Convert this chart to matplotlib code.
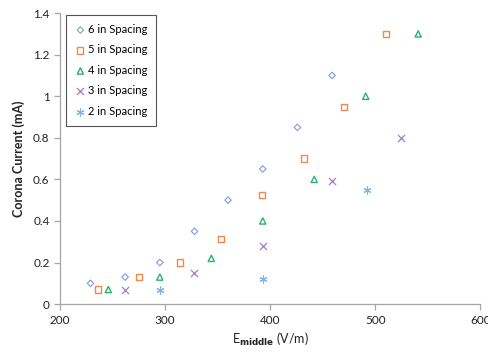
import matplotlib
matplotlib.use("Agg")
import matplotlib.pyplot as plt

plt.rcParams['font.family'] = ['Lato', 'DejaVu Sans']

# Data
x6 = [229, 262, 295, 328, 360, 393, 426, 459]
y6 = [0.10, 0.13, 0.20, 0.35, 0.50, 0.65, 0.85, 1.10]
x5 = [236, 275, 314, 353, 392, 432, 470, 510]
y5 = [0.07, 0.13, 0.20, 0.315, 0.525, 0.70, 0.95, 1.30]
x4 = [246, 295, 344, 393, 442, 491, 541]
y4 = [0.07, 0.13, 0.22, 0.40, 0.60, 1.00, 1.30]
x3 = [262, 328, 393, 459, 525]
y3 = [0.07, 0.15, 0.28, 0.59, 0.80]
x2 = [295, 393, 492]
y2 = [0.07, 0.12, 0.55]

labels = ['6 in Spacing', '5 in Spacing', '4 in Spacing', '3 in Spacing', '2 in Spacing']
xticks = [200, 300, 400, 500, 600]
yticks = [0, 0.2, 0.4, 0.6, 0.8, 1, 1.2, 1.4]
ytick_labels = ['0', '0.2', '0.4', '0.6', '0.8', '1', '1.2', '1.4']

fig = plt.figure(figsize=(4.88, 3.54), dpi=100)
ax = fig.add_axes([0.123, 0.141, 0.861, 0.822])

ax.scatter(x6, y6, marker='D', s=11, facecolors='none', edgecolors='#7f9bdc', linewidths=0.8, label=labels[0])
ax.scatter(x5, y5, marker='s', s=20, facecolors='none', edgecolors='#f2894a', linewidths=1.0, label=labels[1])
ax.scatter(x4, y4, marker='^', s=20, facecolors='none', edgecolors='#2bb46a', linewidths=1.0, label=labels[2])
ax.scatter(x3, y3, marker='x', s=26, color='#a57ac8', linewidths=0.9, label=labels[3])
ax.scatter(x2, y2, marker=(6, 2, 0), s=26, color='#7fb3e6', linewidths=0.8, label=labels[4])

ax.set_xlim(200, 600)
ax.set_ylim(0, 1.4)
ax.set_xticks(xticks)
ax.set_yticks(yticks)
ax.set_yticklabels(ytick_labels)

for s in ['top', 'right']:
    ax.spines[s].set_visible(False)
for s in ['left', 'bottom']:
    ax.spines[s].set_color('#a6a6a6')
    ax.spines[s].set_linewidth(0.9)
ax.tick_params(direction='out', length=4, width=0.9, color='#a6a6a6', labelsize=8.5, labelcolor='#222222')

ax.set_xlabel(r'E$_{\mathbf{middle}}$ (V/m)', fontsize=9, color='#222222', labelpad=4)
ax.set_ylabel('Corona Current (mA)', fontsize=9, color='#222222', labelpad=6, fontweight='bold')

leg = ax.legend(loc='upper left', bbox_to_anchor=(0.014, 0.993), borderaxespad=0,
                fancybox=False, edgecolor='#555555', fontsize=8, handletextpad=0.15,
                handlelength=1.0, labelspacing=0.85, borderpad=0.8, framealpha=1)
leg.get_frame().set_linewidth(0.8)

fig.savefig('out.png', dpi=100)
